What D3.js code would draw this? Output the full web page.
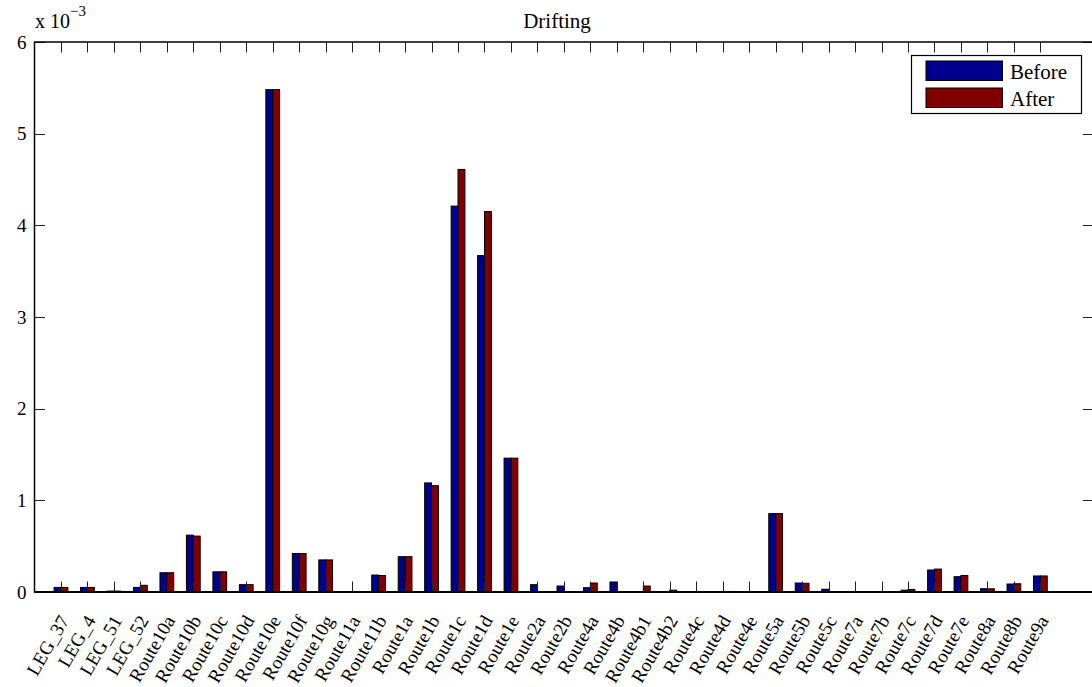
<!DOCTYPE html>
<html>
<head>
<meta charset="utf-8">
<script src="https://cdn.jsdelivr.net/npm/d3@7"></script>
<style>
  body { margin: 0; background: #fff; }
  text { font-family: "Liberation Serif", "Times New Roman", serif; fill: #000; }
</style>
</head>
<body>
<svg id="chart" width="1092" height="687"></svg>
<script>
// category names along the x axis
const routes = ["LEG_37", "LEG_4", "LEG_51", "LEG_52", "Route10a", "Route10b", "Route10c", "Route10d",
  "Route10e", "Route10f", "Route10g", "Route11a", "Route11b", "Route1a", "Route1b", "Route1c", "Route1d",
  "Route1e", "Route2a", "Route2b", "Route4a", "Route4b", "Route4b1", "Route4b2", "Route4c", "Route4d",
  "Route4e", "Route5a", "Route5b", "Route5c", "Route7a", "Route7b", "Route7c", "Route7d", "Route7e",
  "Route8a", "Route8b", "Route9a"];

// values in units of 1e-3
const before = [0.05, 0.05, 0.01, 0.05, 0.21, 0.62, 0.22, 0.08,
  5.48, 0.42, 0.35, 0, 0.185, 0.385, 1.19, 4.21, 3.67,
  1.46, 0.08, 0.065, 0.047, 0.109, 0, 0, 0, 0.004,
  0, 0.855, 0.098, 0.03, 0, 0, 0.02, 0.24, 0.167,
  0.036, 0.087, 0.175];
const after = [0.05, 0.05, 0.01, 0.073, 0.21, 0.61, 0.22, 0.08,
  5.48, 0.42, 0.35, 0, 0.18, 0.385, 1.16, 4.61, 4.15,
  1.46, 0, 0, 0.098, 0, 0.065, 0.02, 0, 0.006,
  0, 0.855, 0.095, 0, 0, 0, 0.028, 0.25, 0.18,
  0.035, 0.09, 0.175];

const yTicks = [0, 1, 2, 3, 4, 5, 6];
const seriesNames = ["Before", "After"];
const colors = ["#00008f", "#800000"];

const svg = d3.select("#chart");

const axL = 34.5, axR = 1093.3, axT = 42, axB = 592;
const tickLen = 10.5;

const x = d3.scaleLinear().domain([0, 40]).range([axL, axR]);
const y = d3.scaleLinear().domain([0, 6]).range([axB, axT]);

const barW = 0.26; // in category units
const series = [before, after];

// bars
series.forEach((vals, s) => {
  svg.append("g")
    .selectAll("rect")
    .data(vals)
    .join("rect")
    .attr("x", (d, i) => x(i + 1 + (s === 0 ? -barW : 0)))
    .attr("y", d => y(d))
    .attr("width", x(barW) - x(0))
    .attr("height", d => y(0) - y(d))
    .attr("fill", colors[s])
    .attr("stroke", "#000")
    .attr("stroke-width", 1);
});

// tick marks (drawn inward, on top of the bars)
const ticks = svg.append("g").attr("stroke", "#222").attr("stroke-width", 1);
routes.forEach((r, i) => {
  const cx = Math.round(x(i + 1)) + 0.5;
  ticks.append("line").attr("x1", cx).attr("x2", cx).attr("y1", axB).attr("y2", axB - tickLen);
  ticks.append("line").attr("x1", cx).attr("x2", cx).attr("y1", axT).attr("y2", axT + tickLen);
});
yTicks.forEach(t => {
  const cy = Math.round(y(t)) + 0.5;
  ticks.append("line").attr("x1", axL).attr("x2", axL + tickLen).attr("y1", cy).attr("y2", cy);
  ticks.append("line").attr("x1", axR).attr("x2", axR - tickLen).attr("y1", cy).attr("y2", cy);
});

// axes box
svg.append("rect")
  .attr("x", axL).attr("y", axT)
  .attr("width", axR - axL).attr("height", axB - axT)
  .attr("fill", "none").attr("stroke", "#000").attr("stroke-width", 1.5);
svg.append("line")
  .attr("x1", axL).attr("x2", axR).attr("y1", axB).attr("y2", axB)
  .attr("stroke", "#000").attr("stroke-width", 2.2);

// y tick labels
svg.append("g")
  .selectAll("text")
  .data(yTicks)
  .join("text")
  .attr("x", 26.5)
  .attr("y", d => y(d))
  .attr("dy", "0.35em")
  .attr("text-anchor", "end")
  .style("font-size", "19px")
  .text(d => d);

// exponent label
const expo = svg.append("text").attr("x", 35).attr("y", 27.5).style("font-size", "20px");
expo.append("tspan").text("x 10");
expo.append("tspan").attr("dy", -12).style("font-size", "15px").text("\u22123");

// x tick labels, rotated
svg.append("g")
  .selectAll("text")
  .data(routes)
  .join("text")
  .attr("transform", (d, i) => `translate(${x(i + 1) + 3},${617}) rotate(-60)`)
  .attr("text-anchor", "end")
  .attr("dy", "0.35em")
  .style("font-size", "19px")
  .text(d => d);

// title
svg.append("text")
  .attr("x", 557).attr("y", 27.5)
  .attr("text-anchor", "middle")
  .style("font-size", "21px")
  .text("Drifting");

// legend
const lg = svg.append("g");
lg.append("rect")
  .attr("x", 911.5).attr("y", 55.5).attr("width", 170).attr("height", 58)
  .attr("fill", "#fff").attr("stroke", "#000").attr("stroke-width", 1.2);
seriesNames.forEach((name, k) => {
  lg.append("rect")
    .attr("x", 926).attr("y", 61 + k * 27)
    .attr("width", 76.5).attr("height", 19.5)
    .attr("fill", colors[k]).attr("stroke", "#000").attr("stroke-width", 1);
  lg.append("text")
    .attr("x", 1010).attr("y", 78.5 + k * 27)
    .style("font-size", "21px")
    .text(name);
});
</script>
</body>
</html>
